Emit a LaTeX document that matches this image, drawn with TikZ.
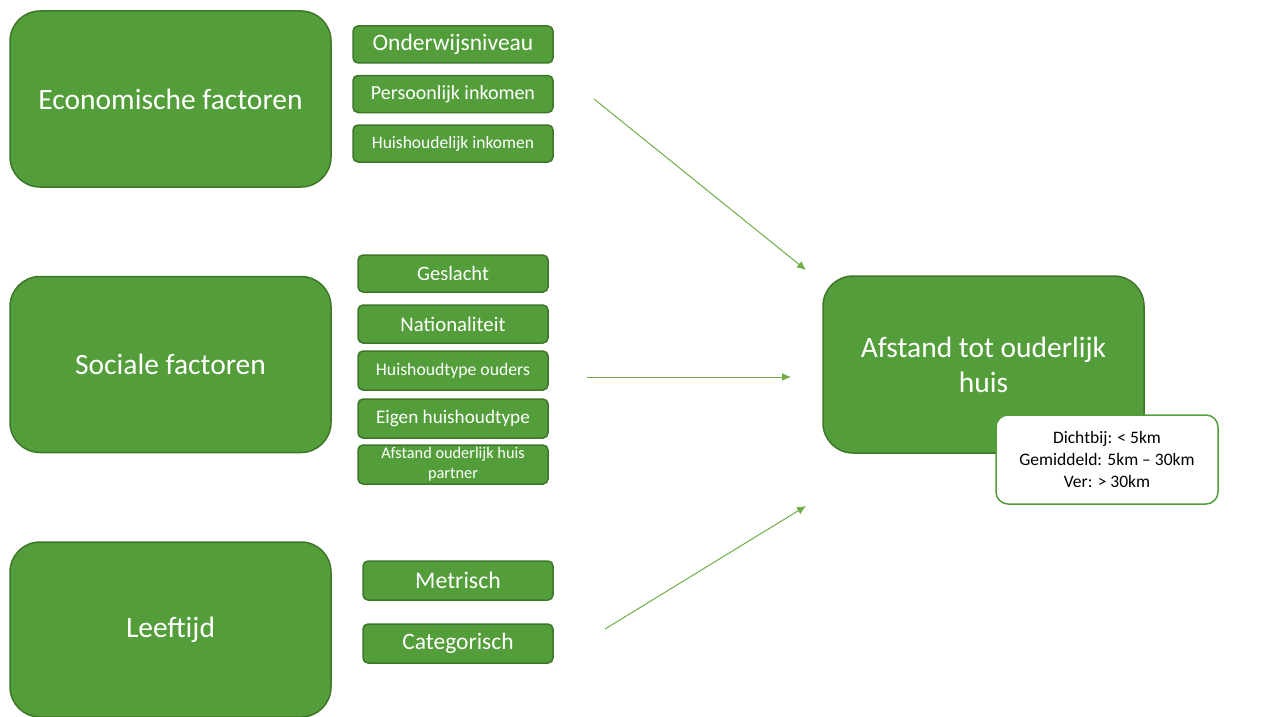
\documentclass[tikz,border=0pt]{standalone}
\usepackage{fontspec}
\setmainfont{Carlito}
\usetikzlibrary{arrows.meta}
\definecolor{groen}{RGB}{83,158,58}
\definecolor{groenrand}{RGB}{62,118,42}
\definecolor{pijlgroen}{RGB}{112,173,71}

\begin{document}
\begin{tikzpicture}[x=1pt,y=-1pt,
factor/.style={draw=groenrand,line width=1.5pt,fill=groen,rounded corners=30pt,minimum width=321pt,minimum height=176pt,text=white,font=\fontsize{29.5}{35}\selectfont,align=center,inner sep=0pt},
sub/.style={draw=groenrand,line width=1.5pt,fill=groen,rounded corners=5pt,minimum width=#1,minimum height=37pt,text=white,align=center,inner sep=0pt},
legenda/.style={draw=groen,line width=1.5pt,fill=white,rounded corners=12pt,minimum width=222pt,minimum height=89pt,align=center,font=\fontsize{17.5}{22}\selectfont,inner sep=0pt},
pijl/.style={draw=pijlgroen,line width=1pt,-{Latex[length=9pt,width=8pt]}}]
\useasboundingbox (0,0) rectangle (1263,717);
% hoofdvakken
\node[factor] (econ) at (170.5,99) {Economische factoren};
\node[factor] (sociaal) at (170.5,364.5) {Sociale factoren};
\node[factor,minimum height=175pt] (leeftijd) at (170.5,629.5) {Leeftijd};
\node[factor,minimum height=177pt] (afstand) at (983.5,364.5) {Afstand tot ouderlijk\\huis};
\node[legenda] (schaal) at (1107,459.5) {Dichtbij: < 5km\\Gemiddeld: 5km -- 30km\\Ver: > 30km};
% economisch
\node[sub=200pt,font=\fontsize{23.5}{28}\selectfont] (onderwijs) at (453,44.5) {Onderwijsniveau};
\node[sub=200pt,font=\fontsize{20}{24}\selectfont] (pinkomen) at (453,94) {Persoonlijk inkomen};
\node[sub=200pt,font=\fontsize{17.5}{21}\selectfont] (hinkomen) at (453,143.5) {Huishoudelijk inkomen};
% sociaal
\node[sub=190pt,font=\fontsize{20.5}{24}\selectfont] (geslacht) at (453,273.5) {Geslacht};
\node[sub=190pt,font=\fontsize{20.8}{25}\selectfont,minimum height=38pt] (nationaliteit) at (453,324) {Nationaliteit};
\node[sub=190pt,font=\fontsize{17.7}{21}\selectfont,minimum height=39pt] (htouders) at (453,370.5) {Huishoudtype ouders};
\node[sub=190pt,font=\fontsize{19.2}{23}\selectfont,minimum height=39pt] (eigenht) at (453,418.5) {Eigen huishoudtype};
\node[sub=190pt,font=\fontsize{16.3}{20}\selectfont,minimum height=39pt] (partner) at (453,464.5) {Afstand ouderlijk huis\\partner};
% leeftijd
\node[sub=190pt,font=\fontsize{23.8}{28}\selectfont,minimum height=39pt] (metrisch) at (458,580.5) {Metrisch};
\node[sub=190pt,font=\fontsize{23.5}{28}\selectfont,minimum height=39pt] (categorisch) at (458,643.5) {Categorisch};
% pijlen
\coordinate (p1) at (594,99);
\coordinate (q1) at (806,270);
\coordinate (p2) at (587,377);
\coordinate (q2) at (791,377);
\coordinate (p3) at (605,629);
\coordinate (q3) at (806,506);
\draw[pijl] (p1) -- (q1);
\draw[pijl] (p2) -- (q2);
\draw[pijl] (p3) -- (q3);
\end{tikzpicture}
\end{document}
